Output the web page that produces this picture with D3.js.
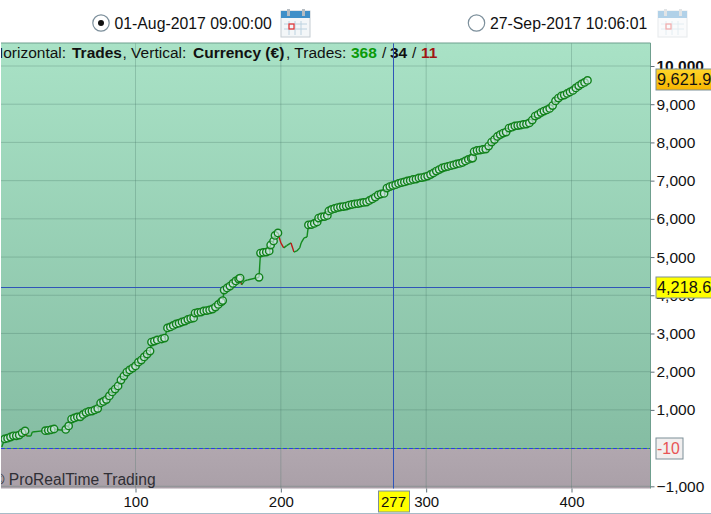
<!DOCTYPE html>
<html>
<head>
<meta charset="utf-8">
<script src="https://cdn.jsdelivr.net/npm/d3@7"></script>
<style>
  html, body { margin: 0; padding: 0; background: #fff; }
  svg { display: block; }
  text { font-family: "Liberation Sans", Arial, sans-serif; }
</style>
</head>
<body>
<div id="chart"></div>
<script>
// values
const tradeNo = [8,10,12,14,16,18,20,22,24,25,28,29,36,38,40,42,44,48,50,52,54,56,58,60,62,64,66,68,70,72,74,76,78,80,82,84,86,88,90,92,94,96,98,100,102,104,106,108,110,111,113,115,118,120,122,124,126,128,130,132,134,136,138,140,141,143,145,147,149,151,153,155,157,159,160,161,163,165,167,169,171,172,173,175,177,185,186,188,190,192,193,195,196,198,200,202,204,207,209,211,213,214,216,218,219,221,223,225,226,228,230,232,233,235,237,239,241,243,245,247,249,251,253,255,257,259,261,263,265,267,269,271,273,275,277,279,281,283,285,287,289,291,293,295,297,299,301,303,305,307,309,311,313,315,317,319,321,323,325,327,329,331,332,333,335,337,339,341,343,345,347,349,351,353,355,357,359,361,363,365,367,369,371,373,375,377,379,381,383,385,387,389,391,393,395,397,399,401,403,405,407,409,411];
const equity = [30,240,260,290,320,320,340,400,450,315,315,420,450,455,465,480,500,475,475,490,580,760,790,815,820,880,930,960,970,1000,1035,1180,1220,1270,1365,1470,1545,1625,1780,1885,1990,2045,2095,2150,2250,2305,2385,2460,2540,2775,2800,2830,2855,2880,3145,3170,3210,3250,3270,3300,3325,3365,3390,3405,3535,3550,3560,3590,3600,3615,3640,3690,3760,3825,3860,4135,4190,4240,4310,4375,4425,4450,4270,4375,4400,4470,5105,5120,5130,5160,5315,5420,5565,5630,5370,5240,5300,5370,5130,5160,5240,5370,5500,5525,5840,5850,5880,5920,6020,6050,6060,6090,6205,6245,6270,6295,6310,6320,6335,6360,6375,6390,6400,6415,6430,6440,6480,6520,6570,6625,6650,6665,6805,6845,6870,6895,6925,6950,6965,6990,7005,7030,7040,7070,7080,7095,7120,7160,7200,7250,7290,7330,7355,7370,7395,7410,7435,7450,7475,7515,7555,7580,7590,7760,7790,7800,7815,7825,7905,8010,8075,8155,8205,8245,8270,8375,8400,8430,8440,8455,8470,8480,8510,8585,8690,8730,8780,8820,8850,8890,8965,9085,9160,9215,9240,9280,9320,9360,9425,9480,9530,9570,9622];
// trades without a winner marker, and the losing ones (drawn red)
const noMarker = [8,25,28,29,36,48,50,173,175,177,200,202,204,207,209,211,213,214,216,218];
const losers = [25,173,200,202,209];

const xTicks = [100,200,300,400];
const yTicks = [-1000,1000,2000,3000,4000,5000,6000,7000,8000,9000,10000];

const width = 711, height = 514;
const plot = {left: 1, right: 650.5, top: 43, bottom: 488.5};

const x = d3.scaleLinear().domain([100,400]).range([135.5,571.5]);
const y = d3.scaleLinear().domain([0,10000]).range([448.1,66]);

const svg = d3.select("#chart").append("svg")
  .attr("width", width)
  .attr("height", height);

const defs = svg.append("defs");
defs.append("clipPath").attr("id","plotClip").append("rect")
  .attr("x",plot.left).attr("y",plot.top)
  .attr("width",plot.right-plot.left).attr("height",plot.bottom-plot.top);

const bg = defs.append("linearGradient").attr("id","bg").attr("x1",0).attr("x2",0).attr("y1",0).attr("y2",1);
bg.append("stop").attr("offset","0%").attr("stop-color","#a9e2c6");
bg.append("stop").attr("offset","100%").attr("stop-color","#85bda3");
const neg = defs.append("linearGradient").attr("id","neg").attr("x1",0).attr("x2",0).attr("y1",0).attr("y2",1);
neg.append("stop").attr("offset","0%").attr("stop-color","#b1a7af");
neg.append("stop").attr("offset","100%").attr("stop-color","#aaa0a8");
const orange = defs.append("linearGradient").attr("id","orange").attr("x1",0).attr("x2",0).attr("y1",0).attr("y2",1);
orange.append("stop").attr("offset","0%").attr("stop-color","#ffd52a");
orange.append("stop").attr("offset","100%").attr("stop-color","#f7b500");

// background
svg.append("rect")
  .attr("x",plot.left).attr("y",plot.top)
  .attr("width",plot.right-plot.left).attr("height",y(-10)-plot.top)
  .attr("fill","url(#bg)");
svg.append("rect")
  .attr("x",plot.left).attr("y",y(-10))
  .attr("width",plot.right-plot.left).attr("height",plot.bottom-y(-10))
  .attr("fill","url(#neg)");

const inner = svg.append("g").attr("clip-path","url(#plotClip)");

// grid
inner.selectAll(".gx").data(xTicks).enter().append("line")
  .attr("x1",d=>x(d)).attr("x2",d=>x(d))
  .attr("y1",plot.top).attr("y2",plot.bottom)
  .attr("stroke","#3f6f62").attr("stroke-opacity",0.28);
inner.selectAll(".gy").data(yTicks).enter().append("line")
  .attr("x1",plot.left).attr("x2",plot.right)
  .attr("y1",d=>y(d)).attr("y2",d=>y(d))
  .attr("stroke","#3f6f62").attr("stroke-opacity",0.28);

// watermark
inner.append("text")
  .attr("x",-7).attr("y",485)
  .attr("font-size",15.6).attr("fill","#2f2f35")
  .text("\u00a9 ProRealTime Trading");

// header, pieces placed one by one as in the picture
const headParts = [
  {t:"Horizontal:", at:-8},
  {t:"Trades", at:72, bold:true},
  {t:", Vertical:", at:122.5},
  {t:"Currency (\u20ac)", at:193, bold:true},
  {t:", Trades:", at:286},
  {t:"368", at:351, bold:true, fill:"#0a9a0a"},
  {t:"/", at:382},
  {t:"34", at:390, bold:true},
  {t:"/", at:412},
  {t:"11", at:421, bold:true, fill:"#a01515"}
];
inner.selectAll(".head").data(headParts).enter().append("text")
  .attr("x",d=>d.at).attr("y",58)
  .attr("font-size",15.5)
  .attr("font-weight",d=>d.bold?"bold":"normal")
  .attr("fill",d=>d.fill||"#111")
  .text(d=>d.t);

// zero line
inner.append("line")
  .attr("x1",plot.left).attr("x2",plot.right)
  .attr("y1",y(-10)).attr("y2",y(-10))
  .attr("stroke","#3fae3f").attr("stroke-width",1.2);
inner.append("line")
  .attr("x1",plot.left).attr("x2",plot.right)
  .attr("y1",y(-10)).attr("y2",y(-10))
  .attr("stroke","#2a3fe0").attr("stroke-width",1.2).attr("stroke-dasharray","4,2");

// equity line, one segment per trade
const points = tradeNo.map((t,i) => ({trade: t, value: equity[i]}));
const line = d3.line().x(d=>x(d.trade)).y(d=>y(d.value));
inner.selectAll(".seg").data(d3.pairs(points)).enter().append("path")
  .attr("d",d=>line(d))
  .attr("fill","none")
  .attr("stroke",d=>losers.includes(d[1].trade) ? "#c01818" : "#148a1e")
  .attr("stroke-width",1.4);

// crosshair
inner.append("line").attr("x1",393).attr("x2",393).attr("y1",plot.top).attr("y2",plot.bottom)
  .attr("stroke","#2f55b8").attr("stroke-width",1).attr("shape-rendering","crispEdges");
inner.append("line").attr("x1",plot.left).attr("x2",plot.right).attr("y1",287.5).attr("y2",287.5)
  .attr("stroke","#2f55b8").attr("stroke-width",1).attr("shape-rendering","crispEdges");

// winners
inner.selectAll("circle").data(points.filter(d=>!noMarker.includes(d.trade))).enter().append("circle")
  .attr("cx",d=>x(d.trade)).attr("cy",d=>y(d.value)).attr("r",3.7)
  .attr("fill","#dcecf0").attr("fill-opacity",0.6)
  .attr("stroke","#11821b").attr("stroke-width",1.4);

// frame
svg.append("path")
  .attr("d",`M${plot.left},${plot.top}H${plot.right}V${plot.bottom}`)
  .attr("fill","none").attr("stroke","#6f9f8e").attr("stroke-width",1);
svg.append("line").attr("x1",0).attr("x2",width).attr("y1",513.5).attr("y2",513.5).attr("stroke","#a8bcc8");

// axes
const yAxis = svg.append("g")
  .attr("transform",`translate(${plot.right},0)`)
  .call(d3.axisRight(y).tickValues(yTicks).tickFormat(d3.format(",")).tickSize(4).tickPadding(2));
yAxis.select(".domain").remove();
yAxis.selectAll("line").attr("stroke","#60707a");
yAxis.selectAll("text").attr("font-size",15.5).attr("fill","#111").attr("font-family","Liberation Sans")
  .attr("font-weight",d=>d===10000?"bold":"normal");

const xAxis = svg.append("g")
  .attr("transform",`translate(0,${plot.bottom})`)
  .call(d3.axisBottom(x).tickValues(xTicks).tickFormat(d3.format("d")).tickSize(4).tickPadding(4));
xAxis.select(".domain").remove();
xAxis.selectAll("line").attr("stroke","#60707a");
xAxis.selectAll("text").attr("font-size",15).attr("fill","#111").attr("font-family","Liberation Sans");

// value labels
function tag(bx, by, bw, bh, fill, txt, color, tx, fs) {
  svg.append("rect").attr("x",bx).attr("y",by).attr("width",bw).attr("height",bh)
    .attr("fill",fill).attr("stroke","#7d8f98").attr("stroke-width",1);
  svg.append("text").attr("x",tx).attr("y",by+bh/2+5.5)
    .attr("font-size",fs).attr("fill",color).text(txt);
}
tag(656,69,60,21,"url(#orange)","9,621.9","#111",657,16.3);
tag(656,277,60,21,"#ffff00","4,218.6","#111",657,16.3);
tag(656,438,27,21,"#f1efef","-10","#e85555",657,15.8);
tag(378.5,491,31,21,"#ffff00","277","#111",381,15);

// date pickers
function datePicker(cx, label, iconX, selected, op) {
  const g = svg.append("g");
  g.append("circle").attr("cx",cx).attr("cy",23).attr("r",8.2)
    .attr("fill","#fff").attr("stroke","#7d909c").attr("stroke-width",1.2);
  if (selected) g.append("circle").attr("cx",cx).attr("cy",23).attr("r",3).attr("fill","#111");
  g.append("text").attr("x",cx+13.5).attr("y",29).attr("font-size",15.8).attr("fill","#111").text(label);
  const ic = svg.append("g").attr("transform",`translate(${iconX},9)`).attr("opacity",op);
  ic.append("rect").attr("x",0).attr("y",2).attr("width",29).attr("height",26).attr("fill","#f3f6f8").attr("stroke","#c4ccd2");
  ic.append("rect").attr("x",0).attr("y",2).attr("width",29).attr("height",7).attr("fill","#3f8fc8");
  [6,21].forEach(k => ic.append("rect").attr("x",k).attr("y",0).attr("width",3).attr("height",7).attr("fill","#b5bcc2"));
  [8,14,20].forEach(k => ic.append("line").attr("x1",k).attr("x2",k).attr("y1",12).attr("y2",26).attr("stroke","#bcd2e0"));
  [15,20].forEach(k => ic.append("line").attr("x1",3).attr("x2",26).attr("y1",k).attr("y2",k).attr("stroke","#bcd2e0"));
  ic.append("rect").attr("x",8).attr("y",15).attr("width",5).attr("height",5).attr("fill","none").attr("stroke","#e83030").attr("stroke-width",1.2);
}
datePicker(101,"01-Aug-2017 09:00:00",281,true,1);
datePicker(476.5,"27-Sep-2017 10:06:01",658,false,0.4);
</script>
</body>
</html>
